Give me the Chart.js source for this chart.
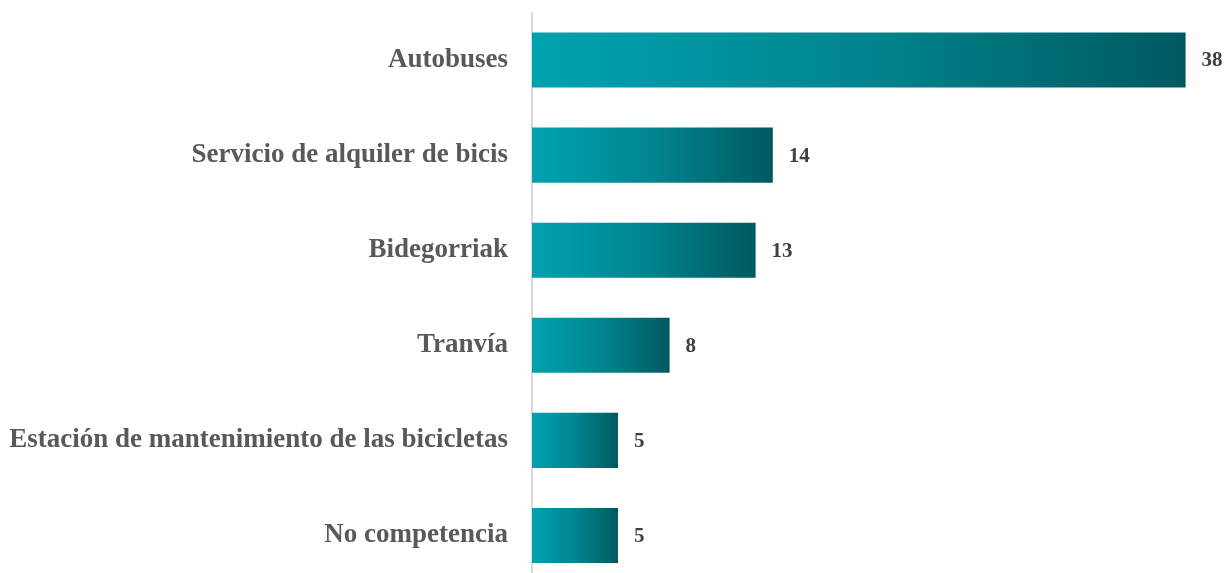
<!DOCTYPE html>
<html>
<head>
<meta charset="utf-8">
<script src="https://cdn.jsdelivr.net/npm/chart.js@4.4.0/dist/chart.umd.min.js"></script>
<style>
    html, body { margin: 0; padding: 0; background: #fff; overflow: hidden; }
    #wrap { width: 1227px; height: 583px; }
</style>
</head>
<body>
<div id="wrap"><canvas id="chart"></canvas></div>
<script>
// Chart data
const categories = [
    'Autobuses',
    'Servicio de alquiler de bicis',
    'Bidegorriak',
    'Tranvía',
    'Estación de mantenimiento de las bicicletas',
    'No competencia'
];
const values = [38, 14, 13, 8, 5, 5];

const FONT = '"Liberation Serif", "DejaVu Serif", serif';

// Horizontal gradient per bar, from the axis to the bar end
function barGradient(context) {
    const chart = context.chart;
    const xScale = chart.scales.x;
    if (!xScale || context.raw == null) return '#008790';
    const x0 = xScale.getPixelForValue(0);
    const x1 = xScale.getPixelForValue(context.raw);
    if (!isFinite(x0) || !isFinite(x1) || x1 === x0) return '#008790';
    const g = chart.ctx.createLinearGradient(x0, 0, x1, 0);
    g.addColorStop(0, '#00a2b0');
    g.addColorStop(0.5, '#00858f');
    g.addColorStop(1, '#005961');
    return g;
}

// Value labels at the end of each bar
const valueLabels = {
    id: 'valueLabels',
    afterDatasetsDraw(chart) {
        const ctx = chart.ctx;
        const meta = chart.getDatasetMeta(0);
        ctx.save();
        ctx.font = 'bold 21px ' + FONT;
        ctx.fillStyle = '#404040';
        ctx.textAlign = 'left';
        ctx.textBaseline = 'middle';
        meta.data.forEach((bar, i) => {
            ctx.fillText(String(values[i]), bar.x + 16, bar.y + 1);
        });
        ctx.restore();
    }
};

new Chart(document.getElementById('chart'), {
    type: 'bar',
    data: {
        labels: categories,
        datasets: [{
            data: values,
            backgroundColor: barGradient,
            borderWidth: 0,
            categoryPercentage: 0.58,
            barPercentage: 1
        }]
    },
    options: {
        indexAxis: 'y',
        responsive: true,
        maintainAspectRatio: false,
        animation: false,
        layout: { padding: { top: 12.5, right: 7, bottom: 0, left: 0 } },
        plugins: {
            legend: { display: false },
            tooltip: { enabled: false }
        },
        scales: {
            x: {
                min: 0,
                max: 40,
                display: false,
                grid: { display: false }
            },
            y: {
                grid: { display: false, drawTicks: false },
                border: { display: true, color: '#d9d9d9', width: 2 },
                ticks: {
                    color: '#595959',
                    padding: 24,
                    font: { family: FONT, size: 27, weight: 'bold' }
                },
                afterFit(scale) {
                    scale.width = 532;
                    scale.paddingTop = 0;
                    scale.paddingBottom = 0;
                }
            }
        }
    },
    plugins: [valueLabels]
});
</script>
</body>
</html>
